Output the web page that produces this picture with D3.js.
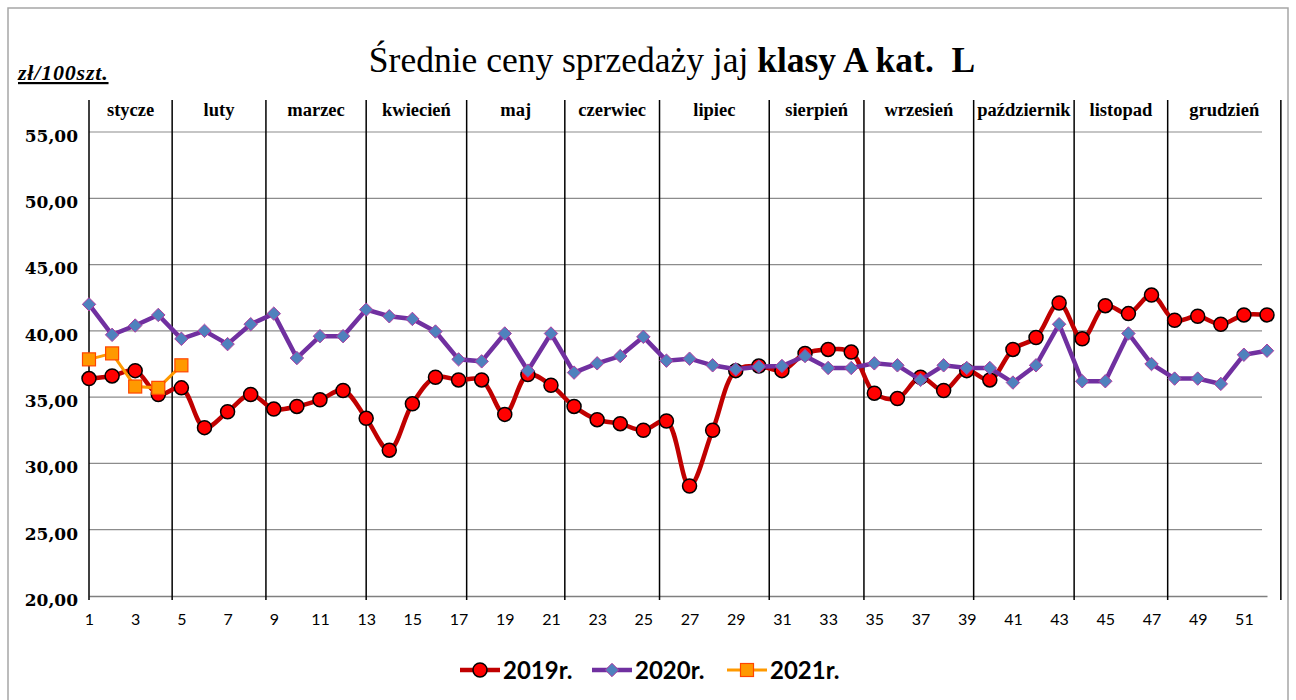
<!DOCTYPE html>
<html>
<head>
<meta charset="utf-8">
<script src="https://cdn.jsdelivr.net/npm/d3@7/dist/d3.min.js"></script>
<style>
body { margin:0; background:#fff; }
svg { display:block; }
</style>
</head>
<body>
<svg id="chart" width="1296" height="700"></svg>
<script>
// tygodnie 1..52
const weeks = d3.range(1,53);

const prices2019 = [36.4,36.6,37.0,35.2,35.7,32.7,33.9,35.2,34.1,34.3,34.8,35.5,33.4,31.0,34.5,36.5,36.3,36.3,33.7,36.7,
    35.9,34.3,33.3,33.0,32.5,33.2,28.3,32.5,37.0,37.35,37.0,38.3,38.6,38.4,35.3,34.9,36.5,35.5,37.0,36.3,
    38.6,39.5,42.1,39.4,41.9,41.3,42.7,40.8,41.1,40.5,41.2,41.2];

const prices2020 = [42.0,39.7,40.4,41.2,39.4,40.0,39.0,40.5,41.3,37.95,39.6,39.6,41.6,41.1,40.9,39.95,37.85,37.7,39.8,37.0,
    39.8,36.85,37.55,38.1,39.55,37.75,37.9,37.4,37.1,37.3,37.35,38.1,37.2,37.2,37.55,37.4,36.3,37.4,37.2,37.2,
    36.1,37.4,40.5,36.2,36.2,39.8,37.5,36.4,36.4,36.0,38.2,38.5];

const prices2021 = [37.85,38.3,35.8,35.7,37.4];

const months = ["stycze","luty","marzec","kwiecień","maj","czerwiec","lipiec","sierpień","wrzesień","październik","listopad","grudzień"];
// granice miesięcy w jednostkach tygodni
const monthBounds = [1,4.6,8.66,13.0,17.35,21.6,25.7,30.45,34.55,39.3,43.65,47.7,52.6];

const yTicks = [20,25,30,35,40,45,50,55];
const xTicks = d3.range(1,53,2);

const seriesNames = ["2019r.","2020r.","2021r."];

const plotLeft = 89;
const plotRight = 1267;
const plotTop = 132;
const plotBottom = 596;
const gridRight = 1262;

const svg = d3.select("#chart");

const x = d3.scaleLinear().domain([1,52]).range([plotLeft,plotRight]);
const y = d3.scaleLinear().domain([20,55]).range([plotBottom,plotTop]);

const plFormat = d3.formatLocale({decimal:",",thousands:" ",grouping:[3],currency:["","zł"]}).format(".2f");

// ramka wykresu
svg.append("rect")
    .attr("x",8)
    .attr("y",8)
    .attr("width",1280)
    .attr("height",700)
    .attr("fill","#fff")
    .attr("stroke","#a6a6a6")
    .attr("stroke-width",1.5);

// tytul
const title = svg.append("text")
    .attr("x",672)
    .attr("y",72)
    .attr("text-anchor","middle")
    .attr("font-family","'Liberation Serif', serif")
    .attr("font-size",35.5)
    .attr("fill","#000");
title.append("tspan").text("Średnie ceny sprzedaży jaj ");
title.append("tspan").attr("font-weight","bold").text("klasy A kat.\u00a0 L");

svg.append("text")
    .attr("x",18)
    .attr("y",80)
    .attr("font-family","'Liberation Serif', serif")
    .attr("font-size",22)
    .attr("font-weight","bold")
    .attr("font-style","italic")
    .attr("letter-spacing",0.8)
    .attr("text-decoration","underline")
    .text("zł/100szt.");

// linie siatki
svg.append("g")
    .selectAll("line")
    .data(yTicks.filter(d => d > 20))
    .join("line")
    .attr("x1",plotLeft)
    .attr("x2",gridRight)
    .attr("y1",d => y(d))
    .attr("y2",d => y(d))
    .attr("stroke","#8c8c8c")
    .attr("stroke-width",1.2);

// os y
const yAxis = svg.append("g")
    .attr("transform",`translate(${plotLeft},0)`)
    .call(d3.axisLeft(y).tickValues(yTicks).tickFormat(plFormat).tickSize(0).tickPadding(11));
yAxis.select(".domain").remove();
yAxis.selectAll("text")
    .attr("dy","0.55em")
    .attr("font-family","'DejaVu Serif', serif")
    .attr("font-size",17)
    .attr("font-weight","bold")
    .attr("fill","#000");

// os x
const xAxis = svg.append("g")
    .attr("transform",`translate(0,${plotBottom})`)
    .call(d3.axisBottom(x).tickValues(xTicks).tickFormat(d3.format("d")).tickSize(0).tickPadding(18));
xAxis.select(".domain")
    .attr("stroke","#7f7f7f")
    .attr("stroke-width",1.5);
xAxis.selectAll("text")
    .attr("font-family","Lato, 'Liberation Sans', sans-serif")
    .attr("font-size",16)
    .attr("fill","#000");

// granice miesiecy
svg.append("g")
    .selectAll("line")
    .data(monthBounds)
    .join("line")
    .attr("x1",d => x(d))
    .attr("x2",d => x(d))
    .attr("y1",100)
    .attr("y2",plotBottom+4)
    .attr("stroke","#000")
    .attr("stroke-width",1.5);

svg.append("g")
    .selectAll("text")
    .data(months)
    .join("text")
    .attr("x",(d,i) => x((monthBounds[i]+monthBounds[i+1])/2))
    .attr("y",116)
    .attr("text-anchor","middle")
    .attr("font-family","'Liberation Serif', serif")
    .attr("font-size",18.5)
    .attr("font-weight","bold")
    .attr("fill","#000")
    .text(d => d);

// serie
const line2019 = d3.line().x((d,i) => x(weeks[i])).y(d => y(d)).curve(d3.curveCatmullRom.alpha(0.5));
const lineStraight = d3.line().x((d,i) => x(weeks[i])).y(d => y(d));

svg.append("path")
    .datum(prices2019)
    .attr("d",line2019)
    .attr("fill","none")
    .attr("stroke","#c00000")
    .attr("stroke-width",4.5);

svg.append("g")
    .selectAll("circle")
    .data(prices2019)
    .join("circle")
    .attr("cx",(d,i) => x(weeks[i]))
    .attr("cy",d => y(d))
    .attr("r",7)
    .attr("fill","#ff0000")
    .attr("stroke","#000")
    .attr("stroke-width",1.5);

svg.append("path")
    .datum(prices2020)
    .attr("d",lineStraight)
    .attr("fill","none")
    .attr("stroke","#7030a0")
    .attr("stroke-width",4.5);

const diamond = d3.symbol().type(d3.symbolDiamond2).size(115);

svg.append("g")
    .selectAll("path")
    .data(prices2020)
    .join("path")
    .attr("d",diamond)
    .attr("transform",(d,i) => `translate(${x(weeks[i])},${y(d)})`)
    .attr("fill","#4f81bd")
    .attr("stroke","#b03aa0")
    .attr("stroke-width",1);

svg.append("path")
    .datum(prices2021)
    .attr("d",lineStraight)
    .attr("fill","none")
    .attr("stroke","#ff9900")
    .attr("stroke-width",3);

svg.append("g")
    .selectAll("rect")
    .data(prices2021)
    .join("rect")
    .attr("x",(d,i) => x(weeks[i])-6.5)
    .attr("y",d => y(d)-6.5)
    .attr("width",13)
    .attr("height",13)
    .attr("fill","#ff9900")
    .attr("stroke","#ff4500")
    .attr("stroke-width",1.2);

// legenda
const legendX = [460,592,727];
const legendY = 670;
const legend = svg.append("g");

legendX.forEach((lx,i) =>
{
    const colors = ["#c00000","#7030a0","#ff9900"];
    legend.append("line")
        .attr("x1",lx)
        .attr("x2",lx+40)
        .attr("y1",legendY)
        .attr("y2",legendY)
        .attr("stroke",colors[i])
        .attr("stroke-width",i==2 ? 3 : 4.5);
    if (i==0)
    {
        legend.append("circle")
            .attr("cx",lx+20).attr("cy",legendY).attr("r",7)
            .attr("fill","#ff0000").attr("stroke","#000").attr("stroke-width",1.5);
    }
    else if (i==1)
    {
        legend.append("path")
            .attr("d",diamond)
            .attr("transform",`translate(${lx+20},${legendY})`)
            .attr("fill","#4f81bd").attr("stroke","#b03aa0").attr("stroke-width",1);
    }
    else
    {
        legend.append("rect")
            .attr("x",lx+13.5).attr("y",legendY-6.5).attr("width",13).attr("height",13)
            .attr("fill","#ff9900").attr("stroke","#ff4500").attr("stroke-width",1.2);
    }
    legend.append("text")
        .attr("x",lx+43)
        .attr("y",legendY+8.5)
        .attr("font-family","Lato, 'Liberation Sans', sans-serif")
        .attr("font-size",24)
        .attr("font-weight","bold")
        .attr("fill","#000")
        .text(seriesNames[i]);
});
</script>
</body>
</html>
